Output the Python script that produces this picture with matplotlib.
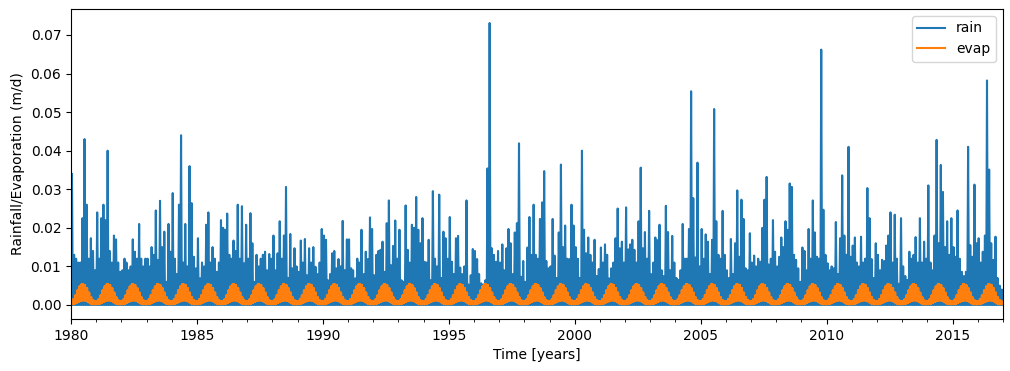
import matplotlib
matplotlib.use("Agg")
import matplotlib.pyplot as plt
import matplotlib.dates as mdates
import pandas as pd

# monthly peak rainfall (m/d), one row per year
years = list(range(1980, 2017))
rain_by_year = [
    [0.034, 0.013, 0.012, 0.011, 0.011, 0.0225, 0.043, 0.026, 0.012, 0.0173, 0.014, 0.009],
    [0.024, 0.012, 0.0225, 0.026, 0.022, 0.040, 0.014, 0.011, 0.018, 0.017, 0.011, 0.0086],
    [0.009, 0.012, 0.011, 0.009, 0.010, 0.017, 0.0138, 0.012, 0.021, 0.012, 0.010, 0.012],
    [0.012, 0.010, 0.015, 0.013, 0.0245, 0.0117, 0.027, 0.015, 0.019, 0.006, 0.021, 0.0138],
    [0.029, 0.012, 0.008, 0.026, 0.044, 0.011, 0.021, 0.010, 0.036, 0.0264, 0.0125, 0.0095],
    [0.0173, 0.0069, 0.011, 0.010, 0.0208, 0.024, 0.011, 0.015, 0.012, 0.0086, 0.011, 0.022],
    [0.020, 0.0195, 0.0237, 0.013, 0.012, 0.0167, 0.014, 0.026, 0.012, 0.0256, 0.0108, 0.0208],
    [0.012, 0.0238, 0.016, 0.006, 0.013, 0.010, 0.012, 0.013, 0.0138, 0.009, 0.0132, 0.012],
    [0.018, 0.009, 0.0134, 0.0217, 0.012, 0.018, 0.0306, 0.007, 0.0184, 0.0095, 0.0147, 0.010],
    [0.0086, 0.0167, 0.011, 0.0171, 0.0077, 0.0147, 0.011, 0.015, 0.0099, 0.008, 0.011, 0.0197],
    [0.018, 0.0169, 0.0064, 0.008, 0.0134, 0.014, 0.0095, 0.0119, 0.010, 0.0218, 0.009, 0.017],
    [0.017, 0.0095, 0.009, 0.0069, 0.012, 0.011, 0.0195, 0.008, 0.0138, 0.0119, 0.0227, 0.0197],
    [0.0077, 0.013, 0.014, 0.0143, 0.0164, 0.0086, 0.0212, 0.0271, 0.0103, 0.0153, 0.0219, 0.012],
    [0.0195, 0.0064, 0.006, 0.0258, 0.0143, 0.011, 0.0208, 0.020, 0.028, 0.0195, 0.016, 0.0225],
    [0.0112, 0.011, 0.0169, 0.0064, 0.0295, 0.012, 0.010, 0.0286, 0.007, 0.019, 0.0173, 0.012],
    [0.0228, 0.0112, 0.008, 0.0173, 0.0179, 0.0097, 0.008, 0.010, 0.0271, 0.0053, 0.0077, 0.0145],
    [0.014, 0.0119, 0.008, 0.0056, 0.0053, 0.0064, 0.0354, 0.0731, 0.0147, 0.013, 0.0112, 0.014],
    [0.011, 0.0157, 0.009, 0.0147, 0.0197, 0.016, 0.008, 0.0188, 0.0212, 0.0419, 0.0073, 0.0114],
    [0.006, 0.0149, 0.0228, 0.013, 0.026, 0.013, 0.012, 0.0223, 0.0266, 0.0347, 0.0114, 0.0095],
    [0.010, 0.0223, 0.0128, 0.007, 0.0188, 0.0364, 0.015, 0.0206, 0.012, 0.0119, 0.026, 0.0206],
    [0.015, 0.012, 0.007, 0.040, 0.0195, 0.0134, 0.0175, 0.013, 0.011, 0.0169, 0.0075, 0.0093],
    [0.0149, 0.011, 0.0157, 0.013, 0.0069, 0.0095, 0.011, 0.0173, 0.025, 0.0147, 0.0164, 0.011],
    [0.0253, 0.0144, 0.0157, 0.0169, 0.0143, 0.011, 0.0217, 0.0356, 0.0147, 0.0189, 0.012, 0.0244],
    [0.008, 0.011, 0.0175, 0.0168, 0.0208, 0.009, 0.0075, 0.0257, 0.0189, 0.009, 0.0179, 0.011],
    [0.007, 0.0065, 0.009, 0.021, 0.012, 0.012, 0.0197, 0.0554, 0.0277, 0.0123, 0.0369, 0.010],
    [0.0197, 0.012, 0.0183, 0.0164, 0.008, 0.0169, 0.0508, 0.0217, 0.013, 0.012, 0.0244, 0.013],
    [0.009, 0.007, 0.0171, 0.008, 0.016, 0.0297, 0.0125, 0.0273, 0.0223, 0.0095, 0.009, 0.0186],
    [0.011, 0.0128, 0.010, 0.012, 0.0112, 0.020, 0.0273, 0.0332, 0.0105, 0.012, 0.022, 0.0138],
    [0.010, 0.0125, 0.0175, 0.015, 0.0217, 0.0195, 0.0315, 0.0306, 0.013, 0.0117, 0.0095, 0.006],
    [0.0149, 0.014, 0.009, 0.0197, 0.012, 0.0271, 0.0188, 0.0125, 0.012, 0.0662, 0.0247, 0.013],
    [0.0108, 0.009, 0.010, 0.0095, 0.0215, 0.008, 0.0173, 0.0336, 0.018, 0.013, 0.041, 0.0125],
    [0.0154, 0.0175, 0.011, 0.010, 0.0177, 0.011, 0.012, 0.0303, 0.0225, 0.0119, 0.007, 0.016],
    [0.013, 0.009, 0.0117, 0.0114, 0.0154, 0.018, 0.024, 0.011, 0.0234, 0.012, 0.0055, 0.0225],
    [0.010, 0.0075, 0.0065, 0.0138, 0.012, 0.013, 0.0176, 0.011, 0.0225, 0.011, 0.0164, 0.012],
    [0.031, 0.011, 0.009, 0.018, 0.0428, 0.016, 0.0363, 0.0293, 0.015, 0.0217, 0.013, 0.0225],
    [0.015, 0.0125, 0.0245, 0.012, 0.0086, 0.0075, 0.0086, 0.041, 0.0155, 0.0125, 0.0312, 0.016],
    [0.0173, 0.011, 0.0138, 0.018, 0.0582, 0.0351, 0.016, 0.0117, 0.0177, 0.007, 0.005, 0.004],
]

# evaporation range per calendar month (m/d): upper and lower edge of the band
evap_hi = [0.0010, 0.0015, 0.0025, 0.0038, 0.0048, 0.0054, 0.0052, 0.0044, 0.0032, 0.0020, 0.0012, 0.0009]
evap_lo = [0.0002, 0.0003, 0.0005, 0.0008, 0.0010, 0.0012, 0.0012, 0.0010, 0.0007, 0.0004, 0.0002, 0.0002]

# rain: one wet day mid-month, dry days around it
rain_t, rain_v = [], []
for yr, row in zip(years, rain_by_year):
    for m, v in enumerate(row, start=1):
        rain_t += [pd.Timestamp(yr, m, 3), pd.Timestamp(yr, m, 15), pd.Timestamp(yr, m, 27)]
        rain_v += [0.0, v, 0.0]

# evap: day to day swing between the month's low and high
evap_t, evap_v = [], []
for yr in years:
    for m in range(12):
        for k, d in enumerate([1, 4, 8, 11, 15, 18, 22, 25]):
            evap_t.append(pd.Timestamp(yr, m + 1, d))
            evap_v.append(evap_hi[m] if k % 2 == 0 else evap_lo[m])

fig, ax = plt.subplots(figsize=(10.1, 3.71), dpi=100)
ax.plot(rain_t, rain_v, color="#1f77b4", label="rain")
ax.plot(evap_t, evap_v, color="#ff7f0e", label="evap")

ax.set_xlim(pd.Timestamp(1980, 1, 1), pd.Timestamp(2017, 1, 1))
ax.xaxis.set_major_locator(mdates.YearLocator(5))
ax.xaxis.set_minor_locator(mdates.YearLocator(1))
ax.xaxis.set_major_formatter(mdates.DateFormatter("%Y"))

ax.set_xlabel("Time [years]")
ax.set_ylabel("Rainfall/Evaporation (m/d)")
ax.legend(loc="upper right")

fig.subplots_adjust(left=0.0703, right=0.993, bottom=0.140, top=0.976)
fig.savefig("out.png", dpi=100)
